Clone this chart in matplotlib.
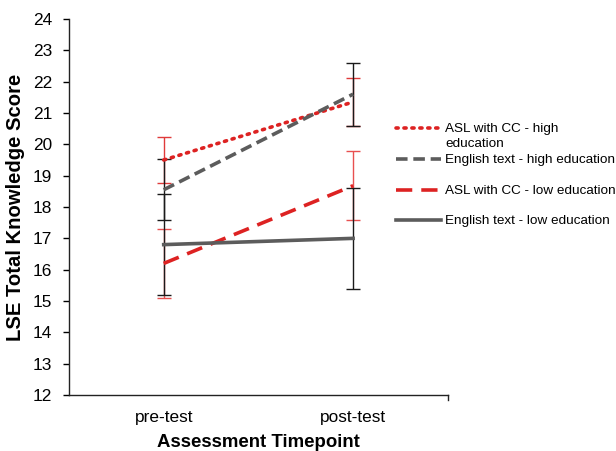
import matplotlib
matplotlib.use("Agg")
import matplotlib.pyplot as plt
from matplotlib.lines import Line2D

plt.rcParams['font.family'] = ['Liberation Sans', 'DejaVu Sans']

categories = ["pre-test", "post-test"]
series_names = ["ASL with CC - high\neducation", "English text - high education",
                "ASL with CC - low education", "English text - low education"]
asl_high = [19.5, 21.35]
asl_high_err = [0.72, 0.75]
eng_high = [18.55, 21.6]
eng_high_err = [0.98, 1.01]
asl_low = [16.2, 18.68]
asl_low_err = [1.09, 1.11]
eng_low = [16.8, 17.0]
eng_low_err = [1.6, 1.62]
yticks = list(range(12, 25))

RED = "#dd2222"
GRAY = "#5c5c5c"

fig = plt.figure(figsize=(6.16, 4.51), dpi=100)
ax = fig.add_axes([0.112, 0.124, 0.615, 0.834])
x = list(range(len(categories)))

# error bars
for vals, errs, col in [(asl_high, asl_high_err, "#e03a3a"), (asl_low, asl_low_err, "#e85050")]:
    ax.errorbar(x, vals, yerr=errs, fmt="none", ecolor=col, elinewidth=1.0,
                capsize=5, capthick=1.0, zorder=2)
for vals, errs in [(eng_high, eng_high_err), (eng_low, eng_low_err)]:
    ax.errorbar(x, vals, yerr=errs, fmt="none", ecolor="#1a1a1a", elinewidth=1.0,
                capsize=5, capthick=1.0, zorder=3)

styles = [
    (asl_high, RED, (0, (0.6, 1.6)), "round"),
    (eng_high, GRAY, (0, (3.2, 1.6)), "butt"),
    (asl_low, RED, (0, (4.5, 2.5)), "butt"),
    (eng_low, GRAY, "-", "butt"),
]
for vals, col, ls, cap in styles:
    ln, = ax.plot(x, vals, color=col, lw=2.6, linestyle=ls, zorder=4)
    ln.set_dash_capstyle(cap)

ax.set_xlim(-0.5, 1.5)
ax.set_ylim(12, 24)
ax.set_yticks(yticks)
ax.set_xticks(x)
ax.set_xticklabels(categories)
ax.tick_params(axis="y", direction="out", length=4.5, width=1, labelsize=12.4, pad=7.5)
ax.tick_params(axis="x", length=0, labelsize=12.4, pad=11)
for s in ["top", "right"]:
    ax.spines[s].set_visible(False)
for s in ["left", "bottom"]:
    ax.spines[s].set_linewidth(1.0)
    ax.spines[s].set_color("#222222")
ax.plot([1.5, 1.5], [12, 11.85], color="#222222", lw=1.0, clip_on=False)
ax.set_xlabel("Assessment Timepoint", fontsize=13.4, fontweight="bold", labelpad=6)
ax.set_ylabel("LSE Total Knowledge Score", fontsize=14.6, fontweight="bold", labelpad=6)

# legend drawn manually in figure pixel coords
W, H = 616, 451
leg_y = [128, 159, 190, 220]
for (vals, col, ls, cap), name, yy in zip(styles, series_names, leg_y):
    ln = Line2D([396 / W, 441 / W], [1 - yy / H, 1 - yy / H], color=col, lw=2.6,
                linestyle=ls, transform=fig.transFigure)
    ln.set_dash_capstyle(cap)
    fig.add_artist(ln)
    fig.text(445 / W, 1 - (yy - 5) / H, name, fontsize=9.7, va="top", ha="left",
             linespacing=1.3)

fig.savefig("out.png", dpi=100)
